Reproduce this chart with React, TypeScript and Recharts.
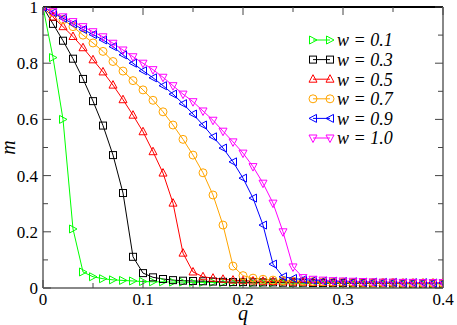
import { LineChart, Line, XAxis, YAxis, Legend } from 'recharts'

const qValues = [
  0, 0.01, 0.02, 0.03, 0.04, 0.05, 0.06, 0.07, 0.08, 0.09,
  0.1, 0.11, 0.12, 0.13, 0.14, 0.15, 0.16, 0.17, 0.18, 0.19,
  0.2, 0.21, 0.22, 0.23, 0.24, 0.25, 0.26, 0.27, 0.28, 0.29,
  0.3, 0.31, 0.32, 0.33, 0.34, 0.35, 0.36, 0.37, 0.38, 0.39,
  0.4,
]

const w01 = [
  1, 0.82, 0.6, 0.21, 0.057, 0.04, 0.033, 0.029, 0.027, 0.025,
  0.023, 0.022, 0.022, 0.021, 0.021, 0.02, 0.02, 0.02, 0.019, 0.019,
  0.019, 0.018, 0.018, 0.018, 0.018, 0.017, 0.017, 0.017, 0.017, 0.017,
  0.016, 0.016, 0.016, 0.016, 0.016, 0.016, 0.015, 0.015, 0.015, 0.015,
  0.015,
]
const w03 = [
  1, 0.94, 0.88, 0.816, 0.744, 0.665, 0.578, 0.473, 0.338, 0.111,
  0.053, 0.038, 0.032, 0.028, 0.026, 0.025, 0.024, 0.023, 0.022, 0.021,
  0.021, 0.02, 0.02, 0.02, 0.019, 0.019, 0.019, 0.018, 0.018, 0.018,
  0.018, 0.017, 0.017, 0.017, 0.017, 0.017, 0.016, 0.016, 0.016, 0.016,
  0.016,
]
const w05 = [
  1, 0.964, 0.93, 0.895, 0.855, 0.812, 0.769, 0.722, 0.67, 0.615,
  0.556, 0.485, 0.409, 0.302, 0.124, 0.057, 0.04, 0.035, 0.031, 0.028,
  0.026, 0.025, 0.024, 0.023, 0.022, 0.021, 0.021, 0.02, 0.02, 0.019,
  0.019, 0.019, 0.018, 0.018, 0.018, 0.018, 0.017, 0.017, 0.017, 0.017,
  0.017,
]
const w07 = [
  1, 0.98, 0.955, 0.93, 0.9, 0.872, 0.842, 0.806, 0.772, 0.738,
  0.705, 0.668, 0.627, 0.58, 0.529, 0.473, 0.41, 0.331, 0.224, 0.078,
  0.044, 0.035, 0.031, 0.028, 0.026, 0.025, 0.024, 0.023, 0.022, 0.021,
  0.021, 0.02, 0.02, 0.019, 0.019, 0.019, 0.018, 0.018, 0.018, 0.018,
  0.017,
]
const w09 = [
  1, 0.98, 0.96, 0.94, 0.92, 0.902, 0.883, 0.859, 0.83, 0.8,
  0.773, 0.748, 0.72, 0.69, 0.656, 0.619, 0.58, 0.538, 0.498, 0.449,
  0.391, 0.32, 0.224, 0.085, 0.04, 0.034, 0.03, 0.027, 0.025, 0.024,
  0.023, 0.022, 0.021, 0.021, 0.02, 0.02, 0.019, 0.019, 0.019, 0.018,
  0.018,
]
const w10 = [
  1, 0.983, 0.965, 0.948, 0.93, 0.912, 0.894, 0.871, 0.847, 0.823,
  0.8, 0.777, 0.75, 0.72, 0.69, 0.663, 0.63, 0.597, 0.558, 0.52,
  0.48, 0.432, 0.373, 0.302, 0.2, 0.075, 0.037, 0.031, 0.028, 0.026,
  0.025, 0.024, 0.023, 0.022, 0.021, 0.021, 0.02, 0.02, 0.019, 0.019,
  0.019,
]

const xTicks = [0, 0.05, 0.1, 0.15, 0.2, 0.25, 0.3, 0.35, 0.4]
const yTicks = [0, 0.1, 0.2, 0.3, 0.4, 0.5, 0.6, 0.7, 0.8, 0.9, 1]
const xMajor = [0, 0.1, 0.2, 0.3, 0.4]
const yMajor = [0, 0.2, 0.4, 0.6, 0.8, 1]

type Shape = 'right' | 'square' | 'up' | 'circle' | 'left' | 'down'

const series: { key: string; name: string; color: string; shape: Shape; values: number[] }[] = [
  { key: 'w01', name: 'w = 0.1', color: '#00ff00', shape: 'right', values: w01 },
  { key: 'w03', name: 'w = 0.3', color: '#000000', shape: 'square', values: w03 },
  { key: 'w05', name: 'w = 0.5', color: '#ff0000', shape: 'up', values: w05 },
  { key: 'w07', name: 'w = 0.7', color: '#ffa500', shape: 'circle', values: w07 },
  { key: 'w09', name: 'w = 0.9', color: '#0000ff', shape: 'left', values: w09 },
  { key: 'w10', name: 'w = 1.0', color: '#ff00ff', shape: 'down', values: w10 },
]

const data = qValues.map((q, i) => {
  const row: Record<string, number> = { q }
  series.forEach(s => { row[s.key] = s.values[i] })
  return row
})

const FONT = "'Liberation Serif', 'DejaVu Serif', serif"
const TICK_COLOR = '#444'
const AXIS_COLOR = '#888'

function Marker({ cx, cy, shape, color }: { cx: number; cy: number; shape: Shape; color: string }) {
  const common = { fill: 'none', stroke: color, strokeWidth: 1 }
  switch (shape) {
    case 'right':
      return <polygon points={`${cx - 3.5},${cy - 4} ${cx - 3.5},${cy + 4} ${cx + 4},${cy}`} {...common} />
    case 'left':
      return <polygon points={`${cx + 3.5},${cy - 4} ${cx + 3.5},${cy + 4} ${cx - 4},${cy}`} {...common} />
    case 'up':
      return <polygon points={`${cx},${cy - 4.5} ${cx - 4},${cy + 3} ${cx + 4},${cy + 3}`} {...common} />
    case 'down':
      return <polygon points={`${cx},${cy + 4.5} ${cx - 4},${cy - 3} ${cx + 4},${cy - 3}`} {...common} />
    case 'square':
      return <rect x={cx - 3.5} y={cy - 3.5} width={7} height={7} {...common} />
    default:
      return <circle cx={cx} cy={cy} r={4} {...common} />
  }
}

const near = (v: number, list: number[]) => list.some(m => Math.abs(m - v) < 1e-6)
const fmt = (v: number) => (v === 0 ? '0' : v === 1 ? '1' : v.toFixed(1))

function XTick({ x, y, payload, side }: any) {
  const major = near(payload.value, xMajor)
  const len = major ? 8 : 5
  const dir = side === 'bottom' ? -1 : 1
  return (
    <g>
      <line x1={x} y1={y} x2={x} y2={y + dir * len} stroke={TICK_COLOR} strokeWidth={1} />
      {side === 'bottom' && major && (
        <text x={x} y={y + 17} textAnchor="middle" fontFamily={FONT} fontSize={17} fill="#000">
          {fmt(payload.value)}
        </text>
      )}
    </g>
  )
}

function YTick({ x, y, payload, side }: any) {
  const major = near(payload.value, yMajor)
  const len = major ? 8 : 5
  const dir = side === 'left' ? 1 : -1
  return (
    <g>
      <line x1={x} y1={y} x2={x + dir * len} y2={y} stroke={TICK_COLOR} strokeWidth={1} />
      {side === 'left' && major && (
        <text x={x - 5} y={y} dy="0.35em" textAnchor="end" fontFamily={FONT} fontSize={17} fill="#000">
          {fmt(payload.value)}
        </text>
      )}
    </g>
  )
}

function LegendBox() {
  return (
    <svg width={130} height={130} style={{ overflow: 'visible' }}>
      {series.map((s, i) => {
        const cy = 12 + i * 19.6
        return (
          <g key={s.key}>
            <line x1={8} y1={cy} x2={25} y2={cy} stroke={s.color} strokeWidth={1} />
            <Marker cx={8} cy={cy} shape={s.shape} color={s.color} />
            <Marker cx={25} cy={cy} shape={s.shape} color={s.color} />
            <text x={32} y={cy} dy="0.35em" fontFamily={FONT} fontStyle="italic" fontSize={18} fill="#000">
              {s.name}
            </text>
          </g>
        )
      })}
    </svg>
  )
}

export default function App() {
  return (
    <div style={{ position: 'absolute', left: 0, top: 0, width: 457, height: 325, background: '#fff' }}>
      <LineChart width={457} height={325} data={data} margin={{ top: 0, right: 0, bottom: 0, left: 0 }}>
        <XAxis
          dataKey="q"
          type="number"
          domain={[0, 0.4]}
          ticks={xTicks}
          interval={0}
          allowDataOverflow
          height={37}
          tickSize={0}
          tickMargin={0}
          tickLine={false}
          axisLine={{ stroke: AXIS_COLOR, strokeWidth: 2 }}
          tick={<XTick side="bottom" />}
          label={({ viewBox }: any) => (
            <text
              x={viewBox.x + viewBox.width / 2}
              y={viewBox.y + 32}
              textAnchor="middle"
              fontFamily={FONT}
              fontStyle="italic"
              fontSize={20}
              fill="#000"
            >
              q
            </text>
          )}
        />
        <XAxis
          xAxisId="top"
          orientation="top"
          dataKey="q"
          type="number"
          domain={[0, 0.4]}
          ticks={xTicks}
          interval={0}
          allowDataOverflow
          height={7}
          tickSize={0}
          tickMargin={0}
          tickLine={false}
          axisLine={{ stroke: '#000', strokeWidth: 2 }}
          tick={<XTick side="top" />}
        />
        <YAxis
          type="number"
          domain={[0, 1]}
          ticks={yTicks}
          interval={0}
          allowDataOverflow
          width={43}
          tickSize={0}
          tickMargin={0}
          tickLine={false}
          axisLine={{ stroke: AXIS_COLOR, strokeWidth: 2 }}
          tick={<YTick side="left" />}
          label={({ viewBox }: any) => {
            const cy = viewBox.y + viewBox.height / 2
            return (
              <text
                x={15}
                y={cy}
                transform={`rotate(-90, 15, ${cy})`}
                textAnchor="middle"
                fontFamily={FONT}
                fontStyle="italic"
                fontSize={20}
                fill="#000"
              >
                m
              </text>
            )
          }}
        />
        <YAxis
          yAxisId="right"
          orientation="right"
          type="number"
          domain={[0, 1]}
          ticks={yTicks}
          interval={0}
          allowDataOverflow
          width={14}
          tickSize={0}
          tickMargin={0}
          tickLine={false}
          axisLine={{ stroke: AXIS_COLOR, strokeWidth: 2 }}
          tick={<YTick side="right" />}
        />
        <Legend
          layout="vertical"
          align="center"
          verticalAlign="middle"
          content={() => <LegendBox />}
          wrapperStyle={{ position: 'absolute', left: 305, top: 28, width: 130, height: 130 }}
        />
        {series.map(s => (
          <Line
            key={s.key}
            type="linear"
            dataKey={s.key}
            name={s.name}
            stroke={s.color}
            strokeWidth={1}
            isAnimationActive={false}
            activeDot={false}
            dot={(p: any) => <Marker key={`${s.key}-${p.index}`} cx={p.cx} cy={p.cy} shape={s.shape} color={s.color} />}
          />
        ))}
      </LineChart>
    </div>
  )
}
